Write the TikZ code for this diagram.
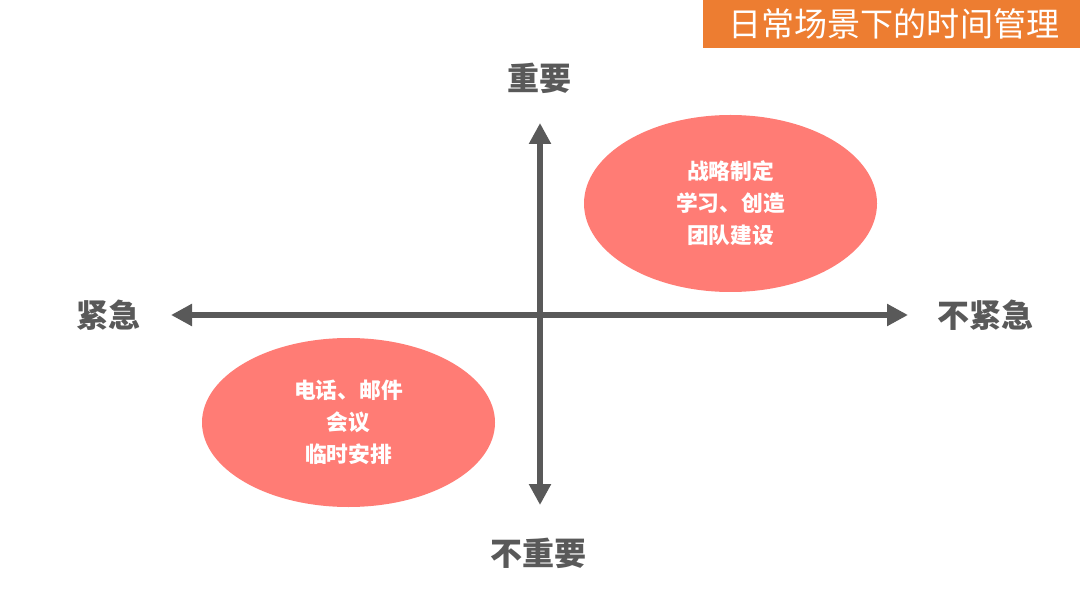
\documentclass[tikz,border=0pt]{standalone}
\usepackage{fontspec}
\newfontfamily\cjk{Noto Sans CJK SC}
\usetikzlibrary{arrows.meta,shapes.geometric}
\definecolor{axisgray}{RGB}{89,89,89}
\definecolor{salmon}{RGB}{255,124,117}
\definecolor{titleorange}{RGB}{237,125,49}
\begin{document}
\begin{tikzpicture}[x=0.75pt, y=-0.75pt,
    axis/.style={draw=axisgray, line width=4pt,
        {Triangle[length=15.75pt,width=15.75pt]}-{Triangle[length=15.75pt,width=15.75pt]}},
    pole/.style={text=axisgray, font=\cjk\bfseries\fontsize{24}{28}\selectfont},
    blob/.style={ellipse, fill=salmon, inner sep=0pt, minimum width=219.75pt,
        text=white, align=center, font=\cjk\bfseries\fontsize{16.3}{24}\selectfont}]
    \useasboundingbox (0,0) rectangle (1080,605);
    % title bar
    \node[fill=titleorange, minimum width=282.75pt, minimum height=36pt, inner sep=0pt,
        anchor=north east, text=white, font=\cjk\fontsize{24.8}{28}\selectfont] (title) at (1080,0) {\hspace{4pt}日常场景下的时间管理};
    % axes
    \coordinate (T) at (540,123);
    \coordinate (B) at (540,505);
    \coordinate (L) at (171,315);
    \coordinate (R) at (908,315);
    \draw[axis] (B) -- (T);
    \draw[axis] (L) -- (R);
    \node[pole] (imp) at (539,78) {重要};
    \node[pole] (notimp) at (538.5,553) {不重要};
    \node[pole] (urg) at (108.5,315) {紧急};
    \node[pole] (noturg) at (985.5,315) {不紧急};
    % quadrants
    \node[blob, minimum height=132.75pt] (plan) at (730.5,203.5) {战略制定\\学习、创造\\团队建设};
    \node[blob, minimum height=126.75pt] (daily) at (348.5,422.5) {电话、邮件\\会议\\临时安排};
\end{tikzpicture}
\end{document}
